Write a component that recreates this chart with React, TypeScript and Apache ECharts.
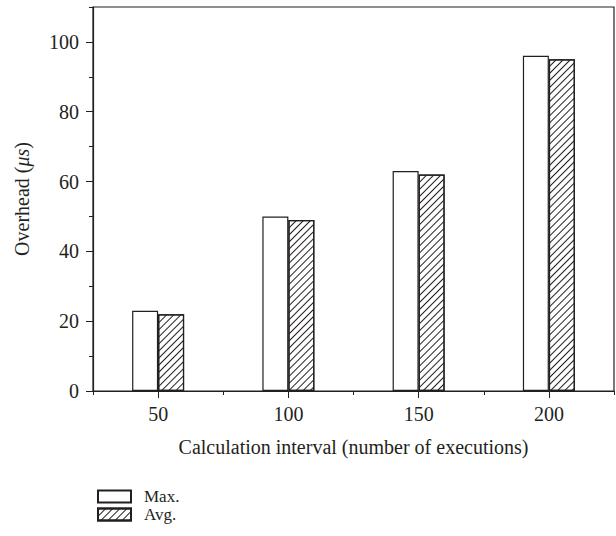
import React, { useEffect, useRef } from "react";
import * as echarts from "echarts";

const categories = [50, 100, 150, 200];
const maxValues = [23, 50, 63, 96];
const avgValues = [22, 49, 62, 95];
const xLabelValues = [50, 100, 150, 200];
const yLabelValues = [0, 20, 40, 60, 80, 100];

const FONT = "Liberation Serif";
const INK = "#231f20";
const FS = 20;

export default function App() {
  const ref = useRef<HTMLDivElement>(null);
  useEffect(() => {
    if (!ref.current) return;
    const chart = echarts.init(ref.current, null, { renderer: "svg" });
    const axisLine = { show: true, lineStyle: { color: INK, width: 1.2 } };
    chart.setOption({
      animation: false,
      backgroundColor: "#fff",
      textStyle: { fontFamily: FONT, color: INK },
      grid: {
        left: 93,
        right: 2,
        top: 7,
        bottom: 145,
        show: true,
        borderColor: INK,
        borderWidth: 1.2,
        containLabel: false,
      },
      legend: {
        orient: "vertical",
        left: 92,
        top: 483,
        itemWidth: 33,
        itemHeight: 12,
        itemGap: 1,
        icon: "rect",
        textStyle: { fontFamily: FONT, fontSize: 17, color: INK, padding: [0, 0, 0, 8], lineHeight: 17 },
        data: ["Max.", "Avg."],
      },
      xAxis: [
        {
          type: "value",
          min: 25,
          max: 225,
          interval: 25,
          axisLine,
          axisTick: { show: true, length: 4, inside: false, lineStyle: { color: INK } },
          axisLabel: {
            customValues: xLabelValues,
            fontFamily: FONT,
            fontSize: FS,
            color: INK,
            margin: 13,
          },
          splitLine: { show: false },
          name: "Calculation interval (number of executions)",
          nameLocation: "middle",
          nameGap: 46,
          nameTextStyle: { fontFamily: FONT, fontSize: FS, color: INK },
        },
        {
          type: "value",
          min: 25,
          max: 225,
          interval: 25,
          position: "bottom",
          axisLine: { show: false },
          axisTick: { show: true, length: 7, customValues: xLabelValues, lineStyle: { color: INK } },
          axisLabel: { show: false },
          splitLine: { show: false },
        },
      ],
      yAxis: [
        {
          type: "value",
          min: 0,
          max: 110,
          interval: 10,
          axisLine,
          axisTick: { show: true, length: 4, lineStyle: { color: INK } },
          axisLabel: {
            customValues: yLabelValues,
            fontFamily: FONT,
            fontSize: FS,
            color: INK,
            margin: 14,
          },
          splitLine: { show: false },
          name: "{n|Overhead (}{i|μs}{n|)}",
          nameLocation: "middle",
          nameGap: 61,
          nameRotate: 90,
          nameTextStyle: {
            fontFamily: FONT,
            fontSize: FS,
            color: INK,
            rich: {
              n: { fontFamily: FONT, fontSize: FS, color: INK },
              i: { fontFamily: FONT, fontSize: FS, color: INK, fontStyle: "italic" },
            },
          },
        },
        {
          type: "value",
          min: 0,
          max: 110,
          interval: 10,
          position: "left",
          axisLine: { show: false },
          axisTick: { show: true, length: 7, customValues: yLabelValues, lineStyle: { color: INK } },
          axisLabel: { show: false },
          splitLine: { show: false },
        },
      ],
      series: [
        {
          name: "Max.",
          type: "bar",
          xAxisIndex: 0,
          yAxisIndex: 0,
          barWidth: 26,
          barGap: "0%",
          data: categories.map((c, i) => [c, maxValues[i]]),
          itemStyle: { color: "#ffffff", borderColor: INK, borderWidth: 1.2 },
        },
        {
          name: "Avg.",
          type: "bar",
          xAxisIndex: 0,
          yAxisIndex: 0,
          barWidth: 26,
          barGap: "0%",
          data: categories.map((c, i) => [c, avgValues[i]]),
          itemStyle: {
            color: "#ffffff",
            borderColor: INK,
            borderWidth: 1.2,
            decal: {
              symbol: "rect",
              symbolSize: 1,
              color: INK,
              backgroundColor: "#ffffff",
              dashArrayX: [1, 0],
              dashArrayY: [1, 4],
              rotation: -Math.PI / 4,
            },
          },
        },
      ],
    });
    return () => chart.dispose();
  }, []);
  return (
    <div
      ref={ref}
      style={{ position: "fixed", left: 0, top: 0, width: 616, height: 536 }}
    />
  );
}
